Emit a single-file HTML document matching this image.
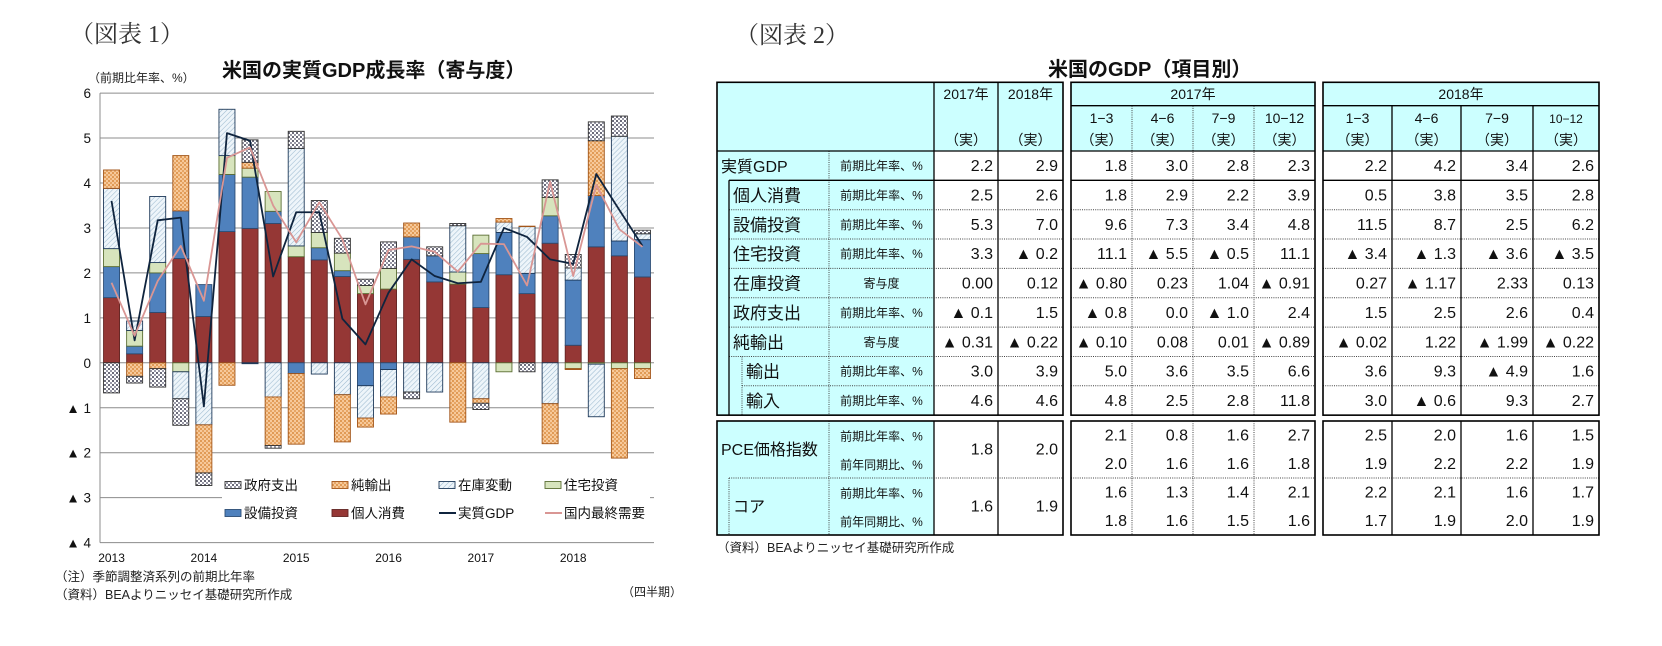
<!DOCTYPE html>
<html lang="ja"><head><meta charset="utf-8">
<style>
html,body{margin:0;padding:0;background:#fff;}
body{width:1662px;height:641px;overflow:hidden;position:relative;font-family:"Liberation Sans","Noto Sans CJK JP",sans-serif;}
svg text{font-family:"Liberation Sans","Noto Sans CJK JP",sans-serif;}
.serif{font-family:"Liberation Serif","Noto Serif CJK SC",serif !important;}
.num{font-family:"Liberation Sans Narrow","Liberation Sans","Noto Sans CJK JP",sans-serif !important;}
</style></head>
<body>
<svg id="page" width="1662" height="641" viewBox="0 0 1662 641" xmlns="http://www.w3.org/2000/svg">
<defs>
<pattern id="pGov" width="4" height="4" patternUnits="userSpaceOnUse"><rect width="4" height="4" fill="#fff"/><rect x="0" y="0" width="2" height="2" fill="#6b6b7a"/><rect x="2" y="2" width="2" height="2" fill="#9a9aa8"/></pattern>
<pattern id="pNx" width="4" height="4" patternUnits="userSpaceOnUse"><rect width="4" height="4" fill="#f7c99a"/><rect x="0" y="0" width="2" height="2" fill="#e09a55"/><rect x="2" y="2" width="2" height="2" fill="#e6a565"/></pattern>
<pattern id="pInv" width="3.5" height="3.5" patternUnits="userSpaceOnUse" patternTransform="rotate(45)"><rect width="3.5" height="3.5" fill="#eef5fa"/><line x1="0" y1="0" x2="0" y2="3.5" stroke="#9dbad0" stroke-width="1.1"/></pattern>
</defs>
<text class="serif" x="70" y="42" font-size="24" fill="#333">（図表 1）</text>
<text x="222" y="77" font-size="20" fill="#111" font-weight="bold">米国の実質GDP成長率（寄与度）</text>
<text x="88" y="82" font-size="12" fill="#222">（前期比年率、%）</text>
<g id="chart"></g>
<text x="55" y="581" font-size="12.5" fill="#222">（注）季節調整済系列の前期比年率</text>
<text x="55" y="599" font-size="12.5" fill="#222">（資料）BEAよりニッセイ基礎研究所作成</text>
<text x="622" y="596" font-size="12" fill="#222">（四半期）</text>

<text class="serif" x="735" y="43" font-size="24" fill="#333">（図表 2）</text>
<text x="1048" y="76" font-size="20" fill="#111" font-weight="bold">米国のGDP（項目別）</text>
<g id="table"></g>
<text x="717" y="552" font-size="12.5" fill="#222">（資料）BEAよりニッセイ基礎研究所作成</text>
</svg>
<script>
// ---- chart data ----
const quarters = ["2013Q1","2013Q2","2013Q3","2013Q4","2014Q1","2014Q2","2014Q3","2014Q4","2015Q1","2015Q2","2015Q3","2015Q4","2016Q1","2016Q2","2016Q3","2016Q4","2017Q1","2017Q2","2017Q3","2017Q4","2018Q1","2018Q2","2018Q3","2018Q4"];
const consumption = [1.45,0.2,1.12,2.32,1.03,2.92,2.99,3.1,2.36,2.29,1.92,1.54,1.64,2.3,1.8,1.75,1.23,1.96,1.54,2.66,0.39,2.58,2.38,1.91];
const capex = [0.69,0.17,0.88,1.06,0.71,1.27,1.14,0.27,-0.24,0.27,0.13,-0.51,-0.15,0.5,0.58,0,1.2,0.94,0.45,0.61,1.45,1.14,0.33,0.83];
const housing = [0.4,0.35,0.23,-0.2,0,0.42,0.2,0.44,0.24,0.34,0.39,0.18,0.46,0,0,0.27,0.41,-0.2,0,0.41,-0.13,-0.03,-0.13,-0.13];
const inventory = [1.34,0.21,1.47,-0.6,-1.38,1.03,-0.02,-0.76,2.17,-0.25,-0.71,-0.72,-0.61,-0.65,-0.65,1.03,-0.80,0.23,1.04,-0.91,0.27,-1.17,2.33,0.13];
const netExports = [0.41,-0.3,-0.13,1.23,-1.07,-0.5,0.13,-1.08,-1.57,0,-1.05,-0.2,-0.38,0.31,0,-1.32,-0.10,0.08,0.01,-0.89,-0.02,1.22,-1.99,-0.22];
const government = [-0.67,-0.15,-0.41,-0.59,-0.28,0,0.5,-0.06,0.38,0.71,0.33,0.14,0.59,-0.15,0.2,0.05,-0.14,0,-0.2,0.39,0.3,0.42,0.45,0.08];
const realGDP = [3.6,0.5,3.17,3.23,-0.97,5.11,4.94,1.92,3.35,3.35,0.98,0.41,1.56,2.3,1.93,1.77,1.8,3.0,2.8,2.3,2.2,4.2,3.4,2.6];
const domesticDemand = [1.78,0.6,1.82,2.6,1.38,4.56,4.79,3.5,2.68,3.57,2.75,1.3,2.51,2.59,2.47,2.03,2.65,2.64,1.72,4.03,1.93,3.96,2.97,2.58];
const yTicks = [6,5,4,3,2,1,0,-1,-2,-3,-4];
const yTickLabels = ["6","5","4","3","2","1","0","▲ 1","▲ 2","▲ 3","▲ 4"];
const yearLabels = ["2013","2014","2015","2016","2017","2018"];

const NS="http://www.w3.org/2000/svg";
function mk(tag,attrs,parent){const e=document.createElementNS(NS,tag);for(const k in attrs)e.setAttribute(k,attrs[k]);parent.appendChild(e);return e;}
const chart=document.getElementById('chart');
const PL=100,PR=654,Y0=362.8,UNIT=44.95;
const yS=v=>Y0-v*UNIT;
const step=(PR-PL)/quarters.length;
const xC=i=>PL+step*(i+0.5);

yTicks.forEach((t,k)=>{
  const g=mk('line',{x1:PL,x2:PR,y1:yS(t),y2:yS(t),stroke:'#8c8c8c','stroke-width':1},chart);
  
  
  const tx=mk('text',{x:91,y:yS(t)+5,'font-size':13.5,'text-anchor':'end',fill:'#111'},chart);
  tx.textContent=yTickLabels[k];
  
  
});
const ax=mk('line',{x1:PL,x2:PL,y1:yS(6),y2:yS(-4),stroke:'#8c8c8c','stroke-width':1},chart);



const series=[
 {name:'consumption',vals:consumption,fill:'#953735',stroke:'#632523'},
 {name:'capex',vals:capex,fill:'#4f81bd',stroke:'#2c4d75'},
 {name:'housing',vals:housing,fill:'#d7e4bd',stroke:'#5b6e34'},
 {name:'inventory',vals:inventory,fill:'url(#pInv)',stroke:'#1f3a5a'},
 {name:'net-exports',vals:netExports,fill:'url(#pNx)',stroke:'#a3561a'},
 {name:'government',vals:government,fill:'url(#pGov)',stroke:'#333'}
];
const BW=16;
quarters.forEach((q,i)=>{
  let pos=0,neg=0;
  series.forEach(s=>{
    const v=s.vals[i]; if(!v) return;
    let a,b;
    if(v>0){a=pos;b=pos+v;pos=b;}else{a=neg;b=neg+v;neg=b;}
    const y1=yS(Math.max(a,b)),y2=yS(Math.min(a,b));
    const r=mk('rect',{x:xC(i)-BW/2,y:y1,width:BW,height:y2-y1,fill:s.fill,stroke:s.stroke,'stroke-width':0.9},chart);
    
    
  });
});
function poly(vals,color,w,name){
  const p=mk('polyline',{points:vals.map((v,i)=>xC(i)+','+yS(v)).join(' '),fill:'none',stroke:color,'stroke-width':w,'stroke-linejoin':'round'},chart);
  
  
}
poly(realGDP,'#0f243e',1.8,'line-real-gdp');
poly(domesticDemand,'#d99694',1.8,'line-domestic-demand');
yearLabels.forEach((y,k)=>{
  const t=mk('text',{x:xC(k*4),y:562,'font-size':12,'text-anchor':'middle',fill:'#111'},chart);
  t.textContent=y;
  
  
});
const lg=mk('rect',{x:222,y:470,width:428,height:58,fill:'#fff'},chart);


const legendItems=[
 ['政府支出','url(#pGov)','#333','rect'],['純輸出','url(#pNx)','#a3561a','rect'],['在庫変動','url(#pInv)','#1f3a5a','rect'],['住宅投資','#d7e4bd','#5b6e34','rect'],
 ['設備投資','#4f81bd','#2c4d75','rect'],['個人消費','#953735','#632523','rect'],['実質GDP','#0f243e','','line'],['国内最終需要','#d99694','','line']];
const lx=[225,332,439,545],ly=[485,513];
legendItems.forEach((it,k)=>{
  const x=lx[k%4],y=ly[Math.floor(k/4)];
  if(it[3]==='rect'){const r=mk('rect',{x:x,y:y-3.5,width:16,height:7,fill:it[1],stroke:it[2],'stroke-width':0.9},chart);}
  else{const l=mk('line',{x1:x,x2:x+17,y1:y,y2:y,stroke:it[1],'stroke-width':2},chart);}
  const t=mk('text',{x:x+19,y:y+5,'font-size':13.5,fill:'#111'},chart);
  t.textContent=it[0];
  
  
});

// ---- table ----
const tb=document.getElementById('table');
const CY='#ccffff';
function rect(x,y,w,h,f){const r=mk('rect',{x:x,y:y,width:w,height:h,fill:f},tb);}
function ln(x1,y1,x2,y2,dot,w){const l=mk('line',{x1:x1,y1:y1,x2:x2,y2:y2,stroke:dot?'#444':'#000','stroke-width':w||(dot?1:1.3)},tb);if(dot)l.setAttribute('stroke-dasharray','1,1.2');}
function tx(s,x,y,size,anchor,cls,name){const t=mk('text',{x:x,y:y,'font-size':size,'text-anchor':anchor||'start',fill:'#111'},tb);if(cls)t.setAttribute('class',cls);t.textContent=s;}

const T1=[717,829,934,998,1063],T2=[1071,1132,1193,1254,1315],T3=[1323,1392,1461,1533,1599];
const TOP=82.3,SUB=105.7,HB=151,RH=29.35,B1=HB+RH*9,P0=421,PM=478,P1=535;
rect(T1[0],TOP,T1[4]-T1[0],HB-TOP,CY);rect(T2[0],TOP,T2[4]-T2[0],HB-TOP,CY);rect(T3[0],TOP,T3[4]-T3[0],HB-TOP,CY);
rect(T1[0],HB,T1[2]-T1[0],B1-HB,CY);rect(T1[0],P0,T1[2]-T1[0],P1-P0,CY);
tx('2017年',(T1[2]+T1[3])/2,99,14,'middle','num');tx('2018年',(T1[3]+T1[4])/2,99,14,'middle','num');
tx('（実）',(T1[2]+T1[3])/2,145,14,'middle');tx('（実）',(T1[3]+T1[4])/2,145,14,'middle');
tx('2017年',(T2[0]+T2[4])/2,99,14,'middle','num');tx('2018年',(T3[0]+T3[4])/2,99,14,'middle','num');
const qh=['1−3','4−6','7−9','10−12'];
[T2,T3].forEach((T,ti)=>{for(let c=0;c<4;c++){const m=(T[c]+T[c+1])/2;tx(qh[c],m,123,(ti===1&&c===3)?12:14,'middle','num');tx('（実）',m,145,14,'middle');}});
const rowLabels=['実質GDP','個人消費','設備投資','住宅投資','在庫投資','政府支出','純輸出','輸出','輸入'];
const rowIndent=[721,733,733,733,733,733,733,746,746];
const rowUnits=['前期比年率、%','前期比年率、%','前期比年率、%','前期比年率、%','寄与度','前期比年率、%','寄与度','前期比年率、%','前期比年率、%'];
const annual=[['2.2','2.9'],['2.5','2.6'],['5.3','7.0'],['3.3','▲ 0.2'],['0.00','0.12'],['▲ 0.1','1.5'],['▲ 0.31','▲ 0.22'],['3.0','3.9'],['4.6','4.6']];
const q2017=[['1.8','3.0','2.8','2.3'],['1.8','2.9','2.2','3.9'],['9.6','7.3','3.4','4.8'],['11.1','▲ 5.5','▲ 0.5','11.1'],['▲ 0.80','0.23','1.04','▲ 0.91'],['▲ 0.8','0.0','▲ 1.0','2.4'],['▲ 0.10','0.08','0.01','▲ 0.89'],['5.0','3.6','3.5','6.6'],['4.8','2.5','2.8','11.8']];
const q2018=[['2.2','4.2','3.4','2.6'],['0.5','3.8','3.5','2.8'],['11.5','8.7','2.5','6.2'],['▲ 3.4','▲ 1.3','▲ 3.6','▲ 3.5'],['0.27','▲ 1.17','2.33','0.13'],['1.5','2.5','2.6','0.4'],['▲ 0.02','1.22','▲ 1.99','▲ 0.22'],['3.6','9.3','▲ 4.9','1.6'],['3.0','▲ 0.6','9.3','2.7']];
for(let r=0;r<9;r++){
  const yc=HB+RH*r+RH/2+5.5;
  tx(rowLabels[r],rowIndent[r],yc+1,r===0?16:17,'start','','row-label');
  tx(rowUnits[r],(T1[1]+T1[2])/2,yc-1,12,'middle','','unit-label');
  tx(annual[r][0],T1[3]-5,yc,16,'end','num','value');tx(annual[r][1],T1[4]-5,yc,16,'end','num','value');
  for(let c=0;c<4;c++){tx(q2017[r][c],T2[c+1]-5,yc,16,'end','num','value');tx(q2018[r][c],T3[c+1]-5,yc,16,'end','num','value');}
  if(r>0){const yl=HB+RH*r;const sx=r>=8?742:729;ln(sx,yl,T1[4],yl,r>1);ln(T2[0],yl,T2[4],yl,r>1);ln(T3[0],yl,T3[4],yl,r>1);}
}
tx('PCE価格指数',721,455,16,'start','','row-label');tx('コア',733,512,16,'start','','row-label');
const subUnits=['前期比年率、%','前年同期比、%'];
const pAnn=[['1.8','2.0'],['1.6','1.9']];
const p17=[['2.1','0.8','1.6','2.7'],['2.0','1.6','1.6','1.8'],['1.6','1.3','1.4','2.1'],['1.8','1.6','1.5','1.6']];
const p18=[['2.5','2.0','1.6','1.5'],['1.9','2.2','2.2','1.9'],['2.2','2.1','1.6','1.7'],['1.7','1.9','2.0','1.9']];
for(let r=0;r<4;r++){
  const yc=P0+14.25+28.5*r+5;
  tx(subUnits[r%2],(T1[1]+T1[2])/2,yc,12,'middle','','unit-label');
  for(let c=0;c<4;c++){tx(p17[r][c],T2[c+1]-5,yc,16,'end','num','value');tx(p18[r][c],T3[c+1]-5,yc,16,'end','num','value');}
}
for(let b=0;b<2;b++){const yc=(b?PM+P1:P0+PM)/2+5;tx(pAnn[b][0],T1[3]-5,yc,16,'end','num','value');tx(pAnn[b][1],T1[4]-5,yc,16,'end','num','value');}
ln(729,PM,T1[4],PM,true);ln(T2[0],PM,T2[4],PM,true);ln(T3[0],PM,T3[4],PM,true);
ln(729,180.3,729,B1,false);ln(742,HB+RH*7,742,B1,true);ln(729,PM,729,P1,true);
ln(T1[1],HB,T1[1],B1,true);ln(T1[1],P0,T1[1],P1,true);
[T1[2],T1[3]].forEach(x=>{ln(x,TOP,x,B1);ln(x,P0,x,P1);});
for(let c=1;c<4;c++){ln(T2[c],SUB,T2[c],B1,true);ln(T2[c],P0,T2[c],P1,true);ln(T3[c],SUB,T3[c],B1);ln(T3[c],P0,T3[c],P1);}
[T1,T2,T3].forEach(T=>{
  ln(T[0],HB,T[4],HB);
  const bx=T===T1?729:T[0];ln(bx,HB+RH,T[4],HB+RH);
  if(T!==T1)ln(T[0],SUB,T[4],SUB);
  const o1=mk('rect',{x:T[0],y:TOP,width:T[4]-T[0],height:B1-TOP,fill:'none',stroke:'#000','stroke-width':1.6},tb);
  const o2=mk('rect',{x:T[0],y:P0,width:T[4]-T[0],height:P1-P0,fill:'none',stroke:'#000','stroke-width':1.6},tb);
});
</script>
</body></html>
